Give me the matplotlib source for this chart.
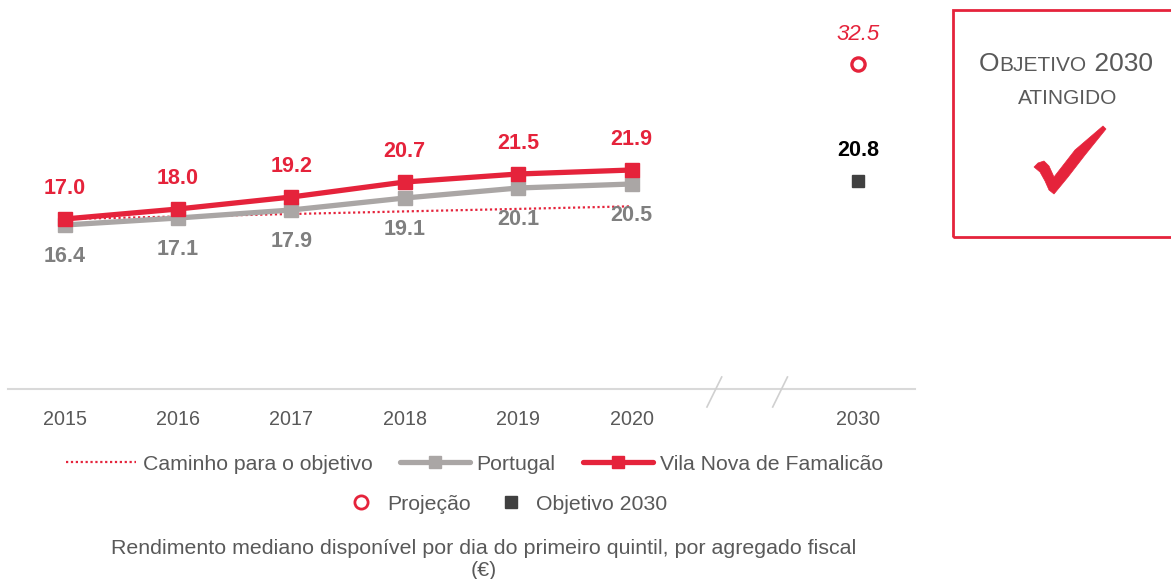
import matplotlib
matplotlib.use("Agg")
import matplotlib.pyplot as plt
from matplotlib.lines import Line2D
from matplotlib.patches import Rectangle, Polygon

plt.rcParams["font.family"] = ["Liberation Sans", "DejaVu Sans"]

RED = "#e5233b"
GREY = "#aaa6a5"
GREY_TXT = "#7f7f7f"
DARK = "#404040"
TXT = "#595959"

years = ["2015", "2016", "2017", "2018", "2019", "2020", "", "2030"]
famalicao = [17.0, 18.0, 19.2, 20.7, 21.5, 21.9]
portugal = [16.4, 17.1, 17.9, 19.1, 20.1, 20.5]
caminho = [17.0, 17.25, 17.5, 17.76, 18.01, 18.27]
projecao_2030 = 32.5
objetivo_2030 = 20.8

W, H = 1171, 579
fig = plt.figure(figsize=(W / 100, H / 100), dpi=100)
ax = fig.add_axes([8 / W, 1 - 389 / H, (915 - 8) / W, (389 - 39) / H])
ax.set_xlim(-0.5, 7.5)
ax.set_ylim(0, 35)

xs = list(range(len(famalicao)))
x30 = years.index("2030")

ax.plot(xs, caminho, ls=(0, (1, 1.2)), color=RED, lw=1.6, zorder=2)
ax.plot(xs, portugal, color=GREY, lw=3.8, marker="s", ms=10, zorder=3)
ax.plot(xs, famalicao, color=RED, lw=3.8, marker="s", ms=10, zorder=4)
ax.plot([x30], [projecao_2030], ls="none", marker="o", ms=9.5, mfc="white",
        mec=RED, mew=2.4, zorder=4)
ax.plot([x30], [objetivo_2030], ls="none", marker="s", ms=9, color=DARK, zorder=4)

for x, v in zip(xs, famalicao):
    ax.annotate(f"{v:.1f}", (x, v), xytext=(0, 22), textcoords="offset points",
                ha="center", va="center", color=RED, fontsize=15.5, fontweight="bold")
for x, v in zip(xs, portugal):
    ax.annotate(f"{v:.1f}", (x, v), xytext=(0, -23), textcoords="offset points",
                ha="center", va="center", color=GREY_TXT, fontsize=15.5, fontweight="bold")
ax.annotate(f"{projecao_2030:.1f}", (x30, projecao_2030), xytext=(0, 21),
            textcoords="offset points", ha="center", va="center", color=RED,
            fontsize=16, style="italic")
ax.annotate(f"{objetivo_2030:.1f}", (x30, objetivo_2030), xytext=(0, 22),
            textcoords="offset points", ha="center", va="center", color="black",
            fontsize=15.5, fontweight="bold")

for s in ["top", "left", "right"]:
    ax.spines[s].set_visible(False)
ax.spines["bottom"].set_color("#d9d9d9")
ax.spines["bottom"].set_linewidth(1.5)
ax.set_yticks([])
ax.set_xticks(range(len(years)))
ax.set_xticklabels(years, fontsize=14.2, color=TXT)
ax.tick_params(axis="x", length=0, pad=15)

# axis break marks
for xb in (5.73, 6.31):
    ax.plot([xb - 0.065, xb + 0.065], [-1.8, 1.2], color="#d0d0d0", lw=1.2,
            clip_on=False, zorder=5)

# legends
h1 = [
    Line2D([], [], ls=(0, (1, 1.2)), color=RED, lw=1.6),
    Line2D([], [], color=GREY, lw=3.8, marker="s", ms=8, solid_capstyle="round"),
    Line2D([], [], color=RED, lw=3.8, marker="s", ms=8, solid_capstyle="round"),
]
fig.legend(h1, ["Caminho para o objetivo", "Portugal", "Vila Nova de Famalicão"],
           loc="center", bbox_to_anchor=(474.5 / W, 1 - 464 / H), ncol=3,
           frameon=False, fontsize=15.3, handlelength=3.3, handletextpad=0.3,
           columnspacing=1.3, labelcolor=TXT, borderpad=0)
h2 = [
    Line2D([], [], ls="none", marker="o", ms=9.5, mfc="white", mec=RED, mew=2),
    Line2D([], [], ls="none", marker="s", ms=9, color=DARK),
]
fig.legend(h2, ["Projeção", "Objetivo 2030"], loc="center",
           bbox_to_anchor=(507 / W, 1 - 504 / H), ncol=2, frameon=False,
           fontsize=15.3, handlelength=1.4, handletextpad=0.5,
           columnspacing=1.2, labelcolor=TXT, borderpad=0)

fig.text(484 / W, 1 - 548 / H,
         "Rendimento mediano disponível por dia do primeiro quintil, por agregado fiscal",
         ha="center", va="center", fontsize=15.4, color=TXT)
fig.text(484 / W, 1 - 570 / H, "(€)", ha="center", va="center", fontsize=15.4, color=TXT)

# objective box
fig.patches.append(Rectangle((953 / W, 1 - 237 / H), 230 / W, 227 / H,
                             transform=fig.transFigure, fill=False, ec=RED, lw=2))


def small_caps(pieces, cx, baseline):
    r = fig.canvas.get_renderer()
    texts, widths = [], []
    for s, size in pieces:
        t = fig.text(0, 1 - baseline / H, s, fontsize=size, color=TXT, va="baseline")
        widths.append(t.get_window_extent(r).width)
        texts.append(t)
    x = cx - sum(widths) / 2
    for t, w in zip(texts, widths):
        t.set_x(x / W)
        x += w


small_caps([("O", 19), ("BJETIVO", 15), (" 2030", 19)], 1066, 71)
small_caps([("ATINGIDO", 15)], 1068, 104)

# calligraphic check mark (pixel outline)
check_px = [(1034, 167), (1038, 163), (1044, 161), (1049, 166), (1054, 177),
            (1075, 150), (1103, 126), (1106, 129), (1085, 155), (1068, 177),
            (1054, 194), (1049, 190), (1045, 181), (1040, 172)]
fig.patches.append(Polygon([(x / W, 1 - y / H) for x, y in check_px],
                           closed=True, transform=fig.transFigure,
                           fc=RED, ec=RED, lw=0.5))

fig.savefig("out.png", dpi=100, facecolor="white")
